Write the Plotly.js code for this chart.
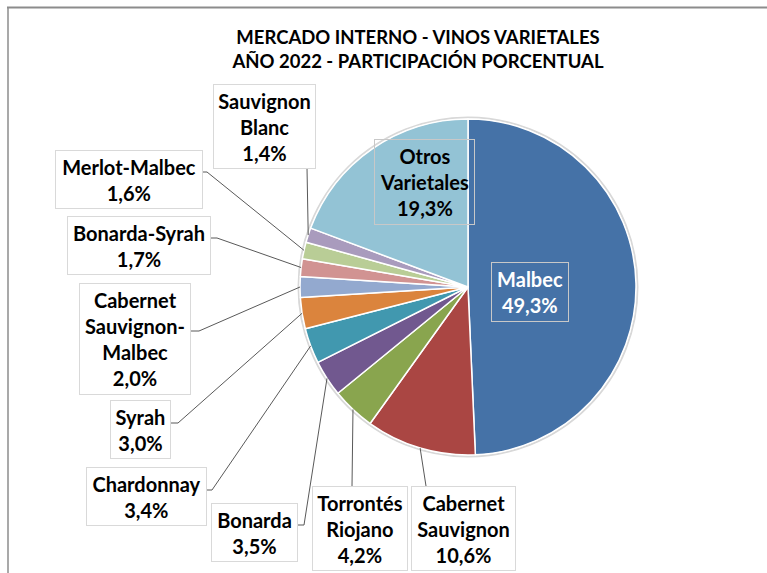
<!DOCTYPE html>
<html>
<head>
<meta charset="utf-8">
<script src="https://cdn.plot.ly/plotly-3.0.1.min.js"></script>
<style>html,body{margin:0;padding:0;background:#fff;}#chart{width:767px;height:573px;}</style>
</head>
<body>
<div id="chart"></div>
<script>
// ---- data ----
const categories = ["Malbec", "Cabernet Sauvignon", "Torrontés Riojano", "Bonarda", "Chardonnay", "Syrah",
  "Cabernet Sauvignon-Malbec", "Bonarda-Syrah", "Merlot-Malbec", "Sauvignon Blanc", "Otros Varietales"];
const displayLabels = ["Malbec", "Cabernet<br>Sauvignon", "Torrontés<br>Riojano", "Bonarda", "Chardonnay", "Syrah",
  "Cabernet<br>Sauvignon-<br>Malbec", "Bonarda-Syrah", "Merlot-Malbec", "Sauvignon<br>Blanc", "Otros<br>Varietales"];
const shares = [49.3, 10.6, 4.2, 3.5, 3.4, 3.0, 2.0, 1.7, 1.6, 1.4, 19.3];
const colors = ["#4572A7", "#AA4643", "#89A54E", "#71588F", "#4198AF", "#DB843D",
  "#93A9CF", "#D19392", "#B9CD96", "#A99BBD", "#93C3D5"];
const titleLines = ["MERCADO INTERNO - VINOS VARIETALES", "AÑO 2022 - PARTICIPACIÓN PORCENTUAL"];

// ---- layout (pixels) ----
const W = 767, H = 573;
const CX = 468, CY = 287, R = 168;
// label boxes: [centerX, centerY, width, height]
const boxes = [
  [529.5, 291.5, 77, 59],
  [463, 528, 104, 84],
  [359.5, 528, 95, 84],
  [254, 532, 86, 58],
  [146, 496, 120, 58],
  [140, 429, 60, 58],
  [134.5, 338.5, 111, 111],
  [138.5, 245, 143, 58],
  [128.5, 179, 147, 58],
  [264, 126, 102, 84],
  [424, 182.5, 100, 85]
];
// leader line start points (box side) and elbow; null = no leader
const leaders = [
  null,
  [[426, 486]],
  [[352, 486]],
  [[297, 525], [304, 525]],
  [[206, 490], [212, 490]],
  [[170, 423], [178, 423]],
  [[190, 331], [199, 331]],
  [[210, 238], [217, 238]],
  [[202, 172], [207, 172]],
  [[307, 168]],
  null
];

const px = x => x / W;
const py = y => 1 - y / H;
const fmt = v => v.toFixed(1).replace(".", ",") + "%";

const total = shares.reduce((a, b) => a + b, 0);
let cum = 0;
const midPts = shares.map(v => {
  const mid = (cum + v / 2) / total * 2 * Math.PI;
  cum += v;
  return [CX + R * Math.sin(mid), CY - R * Math.cos(mid)];
});

const FONT = "Lato, Carlito, Calibri, 'Open Sans', sans-serif";

const annotations = categories.map((c, i) => {
  const b = boxes[i];
  const inside = (i === 0 || i === 10);
  return {
    xref: "paper", yref: "paper",
    x: px(b[0]), y: py(b[1]),
    xanchor: "center", yanchor: "middle",
    text: displayLabels[i] + "<br>" + fmt(shares[i]),
    showarrow: false,
    width: b[2] - 1, height: b[3] - 1,
    borderpad: 0, borderwidth: 1,
    bordercolor: inside ? "#C8C8C8" : "#D9D9D9",
    bgcolor: inside ? "rgba(0,0,0,0)" : "#FFFFFF",
    align: "center", valign: "middle",
    font: {family: FONT, size: 20, color: i === 0 ? "#FFFFFF" : "#000000", weight: "bold"}
  };
});

const shapes = [
  // outer frame (top and left)
  {type: "line", xref: "paper", yref: "paper", x0: px(7), y0: py(7.5), x1: 1, y1: py(7.5), line: {color: "#8C8C8C", width: 2}},
  {type: "line", xref: "paper", yref: "paper", x0: px(8), y0: py(7), x1: px(8), y1: 0, line: {color: "#8C8C8C", width: 1.5}},
  // soft pie rim
  {type: "circle", xref: "paper", yref: "paper", layer: "below",
   x0: px(CX - R - 1.5), x1: px(CX + R + 1.5), y0: py(CY + R + 1.5), y1: py(CY - R - 1.5),
   line: {color: "#D8D8D8", width: 2}, fillcolor: "rgba(0,0,0,0)"}
];
leaders.forEach((pts, i) => {
  if (!pts) return;
  const all = pts.concat([midPts[i]]);
  let d = "M " + all.map(p => px(p[0]) + "," + py(p[1])).join(" L ");
  shapes.push({type: "path", xref: "paper", yref: "paper", path: d, line: {color: "#595959", width: 1}});
});

const trace = {
  type: "pie",
  labels: categories,
  values: shares,
  sort: false,
  direction: "clockwise",
  rotation: 0,
  textinfo: "none",
  hoverinfo: "label+percent",
  marker: {colors: colors, line: {color: "#FFFFFF", width: 1.5}},
  domain: {x: [px(CX - R), px(CX + R)], y: [py(CY + R), py(CY - R)]},
  showlegend: false
};

const layout = {
  width: W, height: H,
  margin: {l: 0, r: 0, t: 0, b: 0},
  paper_bgcolor: "#FFFFFF",
  showlegend: false,
  title: {
    text: titleLines.join("<br>"),
    x: px(418), xanchor: "center",
    y: py(44), yanchor: "middle", yref: "container",
    font: {family: FONT, size: 18.5, color: "#000000", weight: "bold"}
  },
  annotations: annotations,
  shapes: shapes
};

Plotly.newPlot("chart", [trace], layout, {displayModeBar: false, staticPlot: true});
</script>
</body>
</html>
